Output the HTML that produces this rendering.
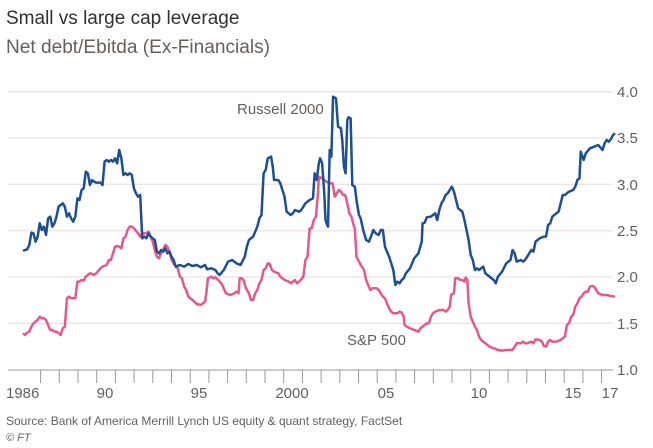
<!DOCTYPE html>
<html><head><meta charset="utf-8">
<style>
html,body{margin:0;padding:0;background:#fff;width:653px;height:448px;overflow:hidden;font-family:"Liberation Sans",sans-serif;}
</style></head><body>
<svg width="653" height="448" viewBox="0 0 653 448" xmlns="http://www.w3.org/2000/svg" font-family="Liberation Sans, sans-serif">
<text x="6" y="24" font-size="19" fill="#33302e">Small vs large cap leverage</text>
<text x="6" y="53" font-size="19" fill="#66605c" textLength="264" lengthAdjust="spacingAndGlyphs">Net debt/Ebitda (Ex-Financials)</text>
<g stroke="#e6dcd3" stroke-width="1">
<line x1="8" x2="613" y1="91.7" y2="91.7"/><line x1="8" x2="613" y1="138" y2="138"/>
<line x1="8" x2="613" y1="184.3" y2="184.3"/><line x1="8" x2="613" y1="230.7" y2="230.7"/>
<line x1="8" x2="613" y1="277" y2="277"/><line x1="8" x2="613" y1="323.3" y2="323.3"/>
</g>
<line x1="8" x2="613" y1="370" y2="370" stroke="#999" stroke-width="1"/>
<g font-size="15" fill="#66605c">
<text x="617" y="97">4.0</text><text x="617" y="143">3.5</text><text x="617" y="190">3.0</text>
<text x="617" y="236">2.5</text><text x="617" y="282">2.0</text><text x="617" y="329">1.5</text><text x="617" y="375">1.0</text>
<text x="6" y="398">1986</text><text x="105" y="398" text-anchor="middle">90</text><text x="199" y="398" text-anchor="middle">95</text>
<text x="292" y="398" text-anchor="middle">2000</text><text x="386" y="398" text-anchor="middle">05</text><text x="479" y="398" text-anchor="middle">10</text>
<text x="573" y="398" text-anchor="middle">15</text><text x="610" y="398" text-anchor="middle">17</text>
<text x="237" y="114">Russell 2000</text>
<text x="347" y="345">S&amp;P 500</text>
</g>
<text x="6" y="425" font-size="12" fill="#66605c">Source: Bank of America Merrill Lynch US equity &amp; quant strategy, FactSet</text>
<text x="6" y="441" font-size="11" fill="#66605c" font-style="italic">© FT</text>
<g transform="translate(0,60) scale(0.4184,0.3333)" fill="none" stroke-linejoin="round">
<polyline vector-effect="non-scaling-stroke" stroke="#e8578a" stroke-width="2.5" points="55,820 60,825 65,818 70,815 75,800 80,790 85,785 90,780 95,770 100,775 105,775 110,780 115,795 120,810 125,810 130,815 135,815 140,820 145,825 150,805 155,800 160,715 165,710 170,715 175,715 180,715 185,665 190,665 195,660 200,662 205,650 210,645 215,640 220,642 225,645 230,640 240,625 245,620 255,615 260,600 265,600 275,560 280,558 285,560 290,565 295,535 300,530 305,510 310,500 315,500 320,505 330,520 335,530 340,520 350,520 355,515 360,530 365,545 370,570 375,590 380,595 385,580 390,570 395,555 400,560 405,575 410,600 415,610 420,620 425,625 430,650 435,655 440,680 445,690 450,710 460,720 470,732 480,735 490,725 493,700 497,655 505,650 510,655 515,652 520,658 525,665 530,672 540,700 550,705 560,700 565,695 570,700 573,655 578,655 582,660 588,685 595,700 600,720 605,720 610,700 615,690 620,670 625,660 630,630 635,625 640,610 645,612 650,630 655,635 665,640 670,650 680,660 690,665 695,670 700,665 705,660 710,670 715,665 725,650 730,600 735,590 740,505 745,505 750,480 755,470 760,400 762,350 770,355 775,360 780,365 790,370 795,370 800,410 805,400 810,390 815,395 820,405 825,405 830,430 835,460 840,470 845,495 848,505 852,590 858,605 862,615 870,630 875,660 880,675 885,690 890,685 900,685 905,690 910,700 915,710 920,715 925,730 930,745 935,755 940,760 950,760 955,755 960,758 965,770 967,795 972,800 980,805 990,810 1000,815 1005,805 1010,800 1015,795 1020,790 1025,790 1030,770 1035,760 1040,755 1050,750 1060,750 1065,755 1070,750 1075,740 1078,705 1085,700 1088,655 1095,655 1100,660 1105,660 1110,665 1113,653 1117,660 1120,730 1125,770 1130,785 1135,800 1140,810 1145,830 1150,840 1160,850 1170,860 1180,865 1190,870 1200,872 1210,870 1220,870 1225,870 1230,860 1235,850 1240,850 1245,850 1250,845 1255,850 1260,850 1270,845 1275,850 1280,838 1290,840 1295,845 1300,858 1305,860 1310,845 1315,840 1320,845 1330,845 1340,840 1345,835 1350,830 1355,795 1360,790 1365,770 1370,765 1375,740 1380,730 1385,715 1390,710 1395,700 1400,695 1405,695 1410,680 1415,678 1420,680 1425,690 1430,700 1440,705 1450,705 1460,708 1470,710"/>
<polyline vector-effect="non-scaling-stroke" stroke="#1d4f91" stroke-width="2.5" points="55,572 65,568 70,555 75,518 80,520 85,545 90,530 95,490 100,510 105,500 110,525 115,475 120,470 125,500 130,490 135,470 140,440 145,435 150,430 155,440 160,470 165,460 170,475 175,485 180,470 185,415 190,420 195,390 200,385 205,335 210,340 215,375 220,360 225,365 230,368 240,368 245,375 250,305 255,300 260,305 265,300 270,305 275,295 280,310 285,270 290,295 295,345 300,340 305,345 310,340 315,345 320,385 325,400 330,410 335,405 340,535 345,530 350,535 355,520 360,530 365,535 370,540 375,575 380,580 385,570 390,575 395,565 400,580 405,575 410,590 415,600 420,620 430,615 440,620 450,612 460,618 470,615 480,622 490,615 495,628 505,625 515,630 520,640 525,645 535,630 545,605 555,600 565,610 575,615 585,590 590,560 595,540 605,530 615,500 620,475 625,465 630,340 635,330 640,295 648,290 652,320 655,360 665,360 670,370 680,410 685,455 695,465 700,460 705,450 715,455 720,450 730,430 740,420 748,415 752,340 757,360 762,310 765,295 770,310 775,400 778,480 782,495 784,500 788,270 792,290 796,110 803,115 808,200 815,205 818,240 822,320 826,340 830,180 833,172 838,175 842,375 848,380 852,420 858,465 862,475 868,510 875,540 882,545 888,525 892,510 898,520 905,525 910,510 915,510 920,560 925,575 930,590 935,610 940,630 945,675 950,665 955,670 960,660 965,655 970,640 980,625 990,595 1000,580 1008,545 1010,490 1015,488 1020,472 1030,470 1040,460 1045,480 1050,450 1055,430 1060,420 1065,405 1070,400 1075,390 1080,380 1085,395 1090,420 1095,445 1100,450 1105,455 1110,480 1115,510 1120,540 1125,585 1130,600 1135,630 1140,625 1145,630 1155,620 1160,640 1170,650 1180,660 1185,670 1190,650 1200,635 1210,610 1220,600 1225,570 1230,580 1235,605 1245,600 1250,605 1255,600 1265,580 1270,570 1275,575 1280,545 1290,535 1300,530 1305,530 1310,495 1315,490 1320,470 1330,460 1335,455 1340,430 1345,405 1350,405 1360,395 1370,390 1375,380 1380,360 1385,355 1388,275 1392,290 1395,300 1400,280 1410,265 1420,260 1430,255 1440,270 1445,250 1450,240 1455,245 1460,238 1465,225 1470,220"/>
</g>
<g stroke="#999" stroke-width="1">
<line x1="40.6" x2="40.6" y1="370" y2="383"/><line x1="59.3" x2="59.3" y1="370" y2="383"/><line x1="78" x2="78" y1="370" y2="383"/><line x1="96.7" x2="96.7" y1="370" y2="383"/><line x1="115.4" x2="115.4" y1="370" y2="383"/><line x1="134.1" x2="134.1" y1="370" y2="383"/><line x1="152.8" x2="152.8" y1="370" y2="383"/><line x1="171.5" x2="171.5" y1="370" y2="383"/><line x1="190.2" x2="190.2" y1="370" y2="383"/><line x1="208.9" x2="208.9" y1="370" y2="383"/><line x1="227.6" x2="227.6" y1="370" y2="383"/><line x1="246.3" x2="246.3" y1="370" y2="383"/><line x1="265" x2="265" y1="370" y2="383"/><line x1="283.7" x2="283.7" y1="370" y2="383"/><line x1="302.4" x2="302.4" y1="370" y2="383"/><line x1="321.1" x2="321.1" y1="370" y2="383"/><line x1="339.8" x2="339.8" y1="370" y2="383"/><line x1="358.5" x2="358.5" y1="370" y2="383"/><line x1="377.2" x2="377.2" y1="370" y2="383"/><line x1="395.9" x2="395.9" y1="370" y2="383"/><line x1="414.6" x2="414.6" y1="370" y2="383"/><line x1="433.3" x2="433.3" y1="370" y2="383"/><line x1="452" x2="452" y1="370" y2="383"/><line x1="470.7" x2="470.7" y1="370" y2="383"/><line x1="489.4" x2="489.4" y1="370" y2="383"/><line x1="508.1" x2="508.1" y1="370" y2="383"/><line x1="526.8" x2="526.8" y1="370" y2="383"/><line x1="545.5" x2="545.5" y1="370" y2="383"/><line x1="564.2" x2="564.2" y1="370" y2="383"/><line x1="582.9" x2="582.9" y1="370" y2="383"/><line x1="601.6" x2="601.6" y1="370" y2="383"/>
</g>
</svg>
</body></html>
